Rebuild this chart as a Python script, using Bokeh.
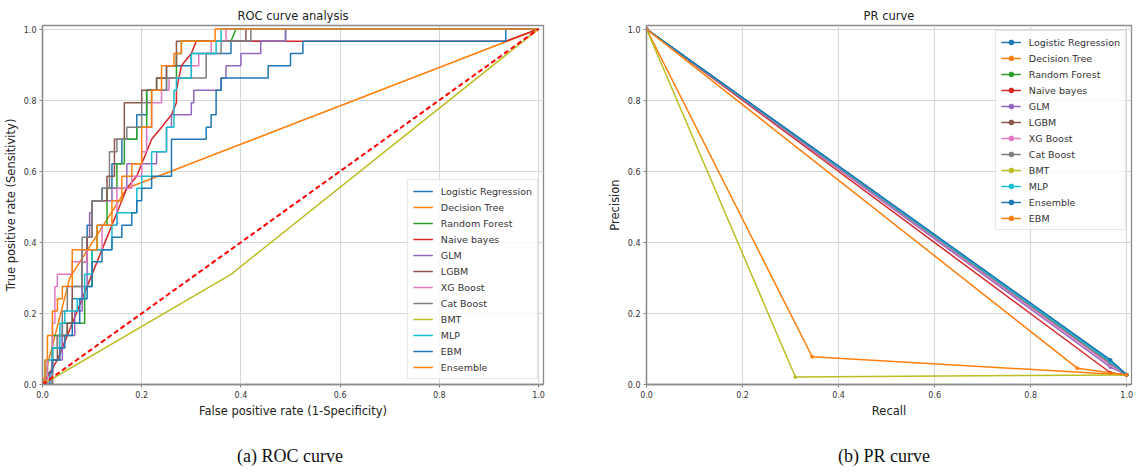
from bokeh.plotting import figure
from bokeh.layouts import row, column
from bokeh.models import Range1d, FixedTicker, Legend, LegendItem, Div
from bokeh.embed import file_html
from bokeh.resources import INLINE

# ---------------- data ----------------
tick_values = [0.0, 0.2, 0.4, 0.6, 0.8, 1.0]
tick_labels = ["0.0", "0.2", "0.4", "0.6", "0.8", "1.0"]
captions = ["(a) ROC curve", "(b) PR curve"]

roc_names = ["Logistic Regression", "Decision Tree", "Random Forest", "Naive bayes", "GLM", "LGBM",
             "XG Boost", "Cat Boost", "BMT", "MLP", "EBM", "Ensemble"]
roc_colors = ["#1f77b4", "#ff7f0e", "#2ca02c", "#d62728", "#9467bd", "#8c564b",
              "#e377c2", "#7f7f7f", "#bcbd22", "#17becf", "#1f77b4", "#ff7f0e"]

# ROC curve points (fpr, tpr)
roc_lr = [(0, 0), (0.01, 0), (0.01, 0.034), (0.02, 0.034), (0.02, 0.103), (0.04, 0.103), (0.04, 0.172),
          (0.06, 0.172), (0.06, 0.241), (0.08, 0.241), (0.08, 0.379), (0.09, 0.379), (0.09, 0.448),
          (0.10, 0.448), (0.10, 0.517), (0.12, 0.517), (0.12, 0.552), (0.14, 0.552), (0.14, 0.621),
          (0.16, 0.621), (0.16, 0.69), (0.19, 0.69), (0.19, 0.759), (0.21, 0.759), (0.21, 0.828),
          (0.25, 0.828), (0.25, 0.897), (0.30, 0.897), (0.30, 0.931), (0.38, 0.931), (0.38, 0.966),
          (0.49, 0.966), (0.49, 1.0), (1.0, 1.0)]
roc_dt = [(0, 0), (0.055, 0.30), (0.17, 0.552), (1.0, 1.0)]
roc_rf = [(0, 0), (0.01, 0), (0.01, 0.069), (0.02, 0.069), (0.02, 0.138), (0.05, 0.138), (0.05, 0.172),
          (0.085, 0.172), (0.085, 0.276), (0.10, 0.276), (0.10, 0.379), (0.11, 0.379), (0.11, 0.448),
          (0.13, 0.448), (0.13, 0.552), (0.15, 0.552), (0.15, 0.621), (0.165, 0.621), (0.165, 0.69),
          (0.19, 0.69), (0.19, 0.724), (0.21, 0.724), (0.21, 0.828), (0.23, 0.828), (0.23, 0.862),
          (0.27, 0.862), (0.27, 0.931), (0.28, 0.931), (0.28, 0.966), (0.38, 0.966), (0.39, 1.0),
          (1.0, 1.0)]
roc_nb = [(0, 0), (0.03, 0.069), (0.06, 0.172), (0.09, 0.276), (0.11, 0.345), (0.13, 0.414),
          (0.15, 0.483), (0.17, 0.552), (0.19, 0.586), (0.20, 0.621), (0.21, 0.655), (0.22, 0.69),
          (0.24, 0.724), (0.26, 0.759), (0.27, 0.793), (0.27, 0.828), (0.28, 0.897), (0.30, 0.931),
          (0.31, 0.966), (0.934, 0.966), (1.0, 1.0)]
roc_glm = [(0, 0), (0.02, 0), (0.02, 0.069), (0.04, 0.069), (0.04, 0.138), (0.065, 0.138), (0.065, 0.207),
           (0.08, 0.207), (0.08, 0.276), (0.09, 0.276), (0.09, 0.414), (0.095, 0.414), (0.095, 0.483),
           (0.10, 0.483), (0.10, 0.517), (0.14, 0.517), (0.14, 0.552), (0.17, 0.552), (0.17, 0.621),
           (0.23, 0.621), (0.23, 0.655), (0.25, 0.655), (0.25, 0.724), (0.26, 0.724), (0.26, 0.759),
           (0.30, 0.759), (0.30, 0.793), (0.305, 0.793), (0.305, 0.828), (0.36, 0.828), (0.36, 0.862),
           (0.37, 0.862), (0.37, 0.897), (0.40, 0.897), (0.40, 0.931), (0.44, 0.931), (0.44, 0.966),
           (0.49, 0.966), (0.49, 1.0), (1.0, 1.0)]
roc_lgbm = [(0, 0), (0.02, 0), (0.02, 0.069), (0.03, 0.069), (0.03, 0.138), (0.05, 0.138), (0.05, 0.172),
            (0.06, 0.172), (0.06, 0.276), (0.08, 0.276), (0.08, 0.345), (0.09, 0.345), (0.09, 0.414),
            (0.10, 0.414), (0.10, 0.517), (0.13, 0.517), (0.13, 0.586), (0.145, 0.586), (0.145, 0.69),
            (0.165, 0.69), (0.165, 0.793), (0.20, 0.793), (0.20, 0.828), (0.23, 0.828), (0.23, 0.862),
            (0.25, 0.862), (0.25, 0.897), (0.27, 0.897), (0.27, 0.966), (0.41, 0.966), (0.41, 1.0),
            (1.0, 1.0)]
roc_xgb = [(0, 0), (0.01, 0), (0.01, 0.069), (0.02, 0.069), (0.02, 0.172), (0.025, 0.172), (0.025, 0.276),
           (0.03, 0.276), (0.03, 0.31), (0.06, 0.31), (0.06, 0.345), (0.09, 0.345), (0.09, 0.379),
           (0.12, 0.379), (0.12, 0.448), (0.15, 0.448), (0.15, 0.552), (0.18, 0.552), (0.18, 0.586),
           (0.20, 0.586), (0.20, 0.655), (0.21, 0.655), (0.21, 0.724), (0.22, 0.724), (0.22, 0.793),
           (0.24, 0.793), (0.24, 0.828), (0.255, 0.828), (0.255, 0.862), (0.30, 0.862), (0.30, 0.897),
           (0.315, 0.897), (0.315, 0.931), (0.34, 0.931), (0.34, 0.966), (0.37, 0.966), (0.37, 1.0),
           (1.0, 1.0)]
roc_cat = [(0, 0), (0.02, 0), (0.02, 0.103), (0.03, 0.103), (0.03, 0.138), (0.04, 0.138), (0.04, 0.207),
           (0.05, 0.207), (0.05, 0.276), (0.08, 0.276), (0.08, 0.414), (0.10, 0.414), (0.10, 0.517),
           (0.12, 0.517), (0.12, 0.552), (0.135, 0.552), (0.135, 0.655), (0.15, 0.655), (0.15, 0.69),
           (0.17, 0.69), (0.17, 0.724), (0.20, 0.724), (0.20, 0.793), (0.22, 0.793), (0.22, 0.828),
           (0.25, 0.828), (0.25, 0.862), (0.33, 0.862), (0.33, 0.931), (0.36, 0.931), (0.36, 0.966),
           (0.42, 0.966), (0.42, 1.0), (1.0, 1.0)]
roc_bmt = [(0, 0), (0.38, 0.31), (1.0, 1.0)]
roc_mlp = [(0, 0), (0.005, 0), (0.005, 0.069), (0.02, 0.069), (0.02, 0.103), (0.035, 0.103), (0.035, 0.172),
           (0.045, 0.172), (0.045, 0.207), (0.07, 0.207), (0.07, 0.241), (0.085, 0.241), (0.085, 0.31),
           (0.10, 0.31), (0.10, 0.379), (0.14, 0.379), (0.14, 0.448), (0.15, 0.448), (0.15, 0.483),
           (0.19, 0.483), (0.19, 0.552), (0.20, 0.552), (0.20, 0.586), (0.22, 0.586), (0.22, 0.655),
           (0.25, 0.655), (0.25, 0.724), (0.265, 0.724), (0.265, 0.828), (0.27, 0.828), (0.27, 0.862),
           (0.30, 0.862), (0.30, 0.931), (0.35, 0.931), (0.35, 0.966), (0.36, 0.966), (0.36, 1.0),
           (1.0, 1.0)]
roc_ebm = [(0, 0), (0.015, 0), (0.015, 0.034), (0.02, 0.034), (0.02, 0.069), (0.035, 0.069), (0.035, 0.103),
           (0.045, 0.103), (0.045, 0.138), (0.06, 0.138), (0.06, 0.172), (0.075, 0.172), (0.075, 0.241),
           (0.09, 0.241), (0.09, 0.276), (0.10, 0.276), (0.10, 0.345), (0.12, 0.345), (0.12, 0.379),
           (0.14, 0.379), (0.14, 0.414), (0.16, 0.414), (0.16, 0.448), (0.18, 0.448), (0.18, 0.483),
           (0.19, 0.483), (0.19, 0.517), (0.20, 0.517), (0.20, 0.552), (0.22, 0.552), (0.22, 0.586),
           (0.26, 0.586), (0.26, 0.69), (0.33, 0.69), (0.33, 0.724), (0.34, 0.724), (0.34, 0.759),
           (0.35, 0.759), (0.35, 0.828), (0.36, 0.828), (0.36, 0.862), (0.455, 0.862), (0.455, 0.897),
           (0.50, 0.897), (0.50, 0.931), (0.525, 0.931), (0.525, 0.966), (0.934, 0.966), (0.934, 1.0),
           (1.0, 1.0)]
roc_ens = [(0, 0), (0.005, 0), (0.005, 0.069), (0.01, 0.069), (0.01, 0.138), (0.02, 0.138), (0.02, 0.207),
           (0.03, 0.207), (0.03, 0.241), (0.04, 0.241), (0.04, 0.276), (0.06, 0.276), (0.06, 0.379),
           (0.11, 0.379), (0.11, 0.448), (0.14, 0.448), (0.14, 0.517), (0.16, 0.517), (0.16, 0.586),
           (0.18, 0.586), (0.18, 0.621), (0.20, 0.621), (0.20, 0.724), (0.22, 0.724), (0.22, 0.828),
           (0.24, 0.828), (0.24, 0.897), (0.265, 0.897), (0.265, 0.931), (0.28, 0.931), (0.28, 0.966),
           (0.348, 0.966), (0.348, 1.0), (1.0, 1.0)]
roc_curves = [roc_lr, roc_dt, roc_rf, roc_nb, roc_glm, roc_lgbm, roc_xgb, roc_cat, roc_bmt, roc_mlp,
              roc_ebm, roc_ens]
chance_x = [0.0, 1.0]
chance_y = [0.0, 1.0]

pr_names = ["Logistic Regression", "Decision Tree", "Random Forest", "Naive bayes", "GLM", "LGBM",
            "XG Boost", "Cat Boost", "BMT", "MLP", "Ensemble", "EBM"]
pr_colors = ["#1f77b4", "#ff7f0e", "#2ca02c", "#d62728", "#9467bd", "#8c564b",
             "#e377c2", "#7f7f7f", "#bcbd22", "#17becf", "#1f77b4", "#ff7f0e"]
pr_recall = [
    [0.0, 0.966, 1.0],  # Logistic Regression
    [0.0, 0.345, 1.0],  # Decision Tree
    [0.0, 0.966, 1.0],  # Random Forest
    [0.0, 0.966, 1.0],  # Naive bayes
    [0.0, 0.966, 1.0],  # GLM
    [0.0, 0.966, 1.0],  # LGBM
    [0.0, 0.966, 1.0],  # XG Boost
    [0.0, 0.966, 1.0],  # Cat Boost
    [0.0, 0.31, 1.0],   # BMT
    [0.0, 0.966, 1.0],  # MLP
    [0.0, 0.966, 1.0],  # Ensemble
    [0.0, 0.897, 1.0],  # EBM
]
pr_precision = [
    [1.0, 0.068, 0.027],
    [1.0, 0.078, 0.027],
    [1.0, 0.062, 0.027],
    [1.0, 0.033, 0.027],
    [1.0, 0.049, 0.027],
    [1.0, 0.058, 0.027],
    [1.0, 0.055, 0.027],
    [1.0, 0.060, 0.027],
    [1.0, 0.021, 0.027],
    [1.0, 0.064, 0.027],
    [1.0, 0.069, 0.027],
    [1.0, 0.046, 0.027],
]

# ---------------- styling helpers ----------------
SPINE = "#8a8a8a"
TXT = "#333333"


def style(p, xlabel, ylabel):
    p.title.align = "center"
    p.title.text_font = "DejaVu Sans"
    p.title.text_font_size = "11.5px"
    p.title.text_font_style = "normal"
    p.title.text_color = "#222222"
    p.title.standoff = 6
    p.outline_line_color = SPINE
    p.outline_line_width = 1.3
    p.background_fill_color = "white"
    p.border_fill_color = "white"
    for ax in (p.xaxis[0], p.yaxis[0]):
        ax.ticker = FixedTicker(ticks=tick_values)
        ax.major_label_overrides = {v: s for v, s in zip(tick_values, tick_labels)}
        ax.major_label_text_font = "DejaVu Sans"
        ax.major_label_text_font_size = "8px"
        ax.major_label_text_color = TXT
        ax.axis_line_color = SPINE
        ax.axis_line_width = 1.3
        ax.major_tick_line_color = SPINE
        ax.major_tick_in = 0
        ax.major_tick_out = 3
        ax.minor_tick_line_color = None
        ax.axis_label_text_font = "DejaVu Sans"
        ax.axis_label_text_font_size = "11.5px"
        ax.axis_label_text_font_style = "normal"
        ax.axis_label_text_color = "#222222"
        ax.major_label_standoff = 3
        ax.axis_label_standoff = 3
    p.xaxis.axis_label = xlabel
    p.yaxis.axis_label = ylabel
    p.grid.grid_line_color = "#d6d6d6"
    p.grid.grid_line_width = 1
    p.grid.ticker = FixedTicker(ticks=tick_values)


def make_legend(items, location):
    lg = Legend(items=items, location=location)
    lg.margin = 5
    lg.padding = 5
    lg.spacing = 4
    lg.glyph_width = 20
    lg.glyph_height = 12
    lg.label_height = 12
    lg.label_standoff = 8
    lg.label_text_font = "DejaVu Sans"
    lg.label_text_font_size = "9.5px"
    lg.label_text_color = TXT
    lg.border_line_color = "#cccccc"
    lg.border_line_width = 1
    lg.background_fill_alpha = 0.8
    return lg


# ---------------- ROC figure ----------------
p1 = figure(width=568, height=440, output_backend="svg", toolbar_location=None,
            x_range=Range1d(0, 1.01), y_range=Range1d(0, 1.01),
            min_border_left=42, min_border_right=25, min_border_top=24, min_border_bottom=56,
            title="ROC curve analysis")
style(p1, "False positive rate (1-Specificity)", "True positive rate (Sensitivity)")

roc_items = []
for name, color, pts in zip(roc_names, roc_colors, roc_curves):
    xs = [a for a, b in pts]
    ys = [b for a, b in pts]
    r = p1.line(xs, ys, line_color=color, line_width=1.5)
    roc_items.append(LegendItem(label=name, renderers=[r]))
p1.line(chance_x, chance_y, line_color="red", line_width=2, line_dash="5 3")
p1.add_layout(make_legend(roc_items, "bottom_right"))

# ---------------- PR figure ----------------
p2 = figure(width=568, height=440, output_backend="svg", toolbar_location=None,
            x_range=Range1d(0, 1.01), y_range=Range1d(0, 1.01),
            min_border_left=78, min_border_right=5, min_border_top=25, min_border_bottom=54,
            title="PR curve")
style(p2, "Recall", "Precision")

pr_items = []
for name, color, rx, py in zip(pr_names, pr_colors, pr_recall, pr_precision):
    r1 = p2.line(rx, py, line_color=color, line_width=1.5)
    r2 = p2.scatter(rx, py, size=3, fill_color=color, line_color=color)
    pr_items.append(LegendItem(label=name, renderers=[r1, r2]))
p2.add_layout(make_legend(pr_items, "top_right"))

# ---------------- captions ----------------
cap_style = ("position:absolute; top:0; height:32px; line-height:32px; transform:translateX(-50%);"
             "font-family:'Liberation Serif', serif; font-size:18px; color:#111; white-space:nowrap;")
cap_html = ('<div style="position:relative; width:1136px; height:32px;">'
            f'<span style="{cap_style} left:290px;">{captions[0]}</span>'
            f'<span style="{cap_style} left:884px;">{captions[1]}</span>'
            '</div>')
cap = Div(text=cap_html, width=1136, height=32, margin=0)

layout = column(row(p1, p2), cap)
open("out.html", "w").write(file_html(layout, INLINE))
